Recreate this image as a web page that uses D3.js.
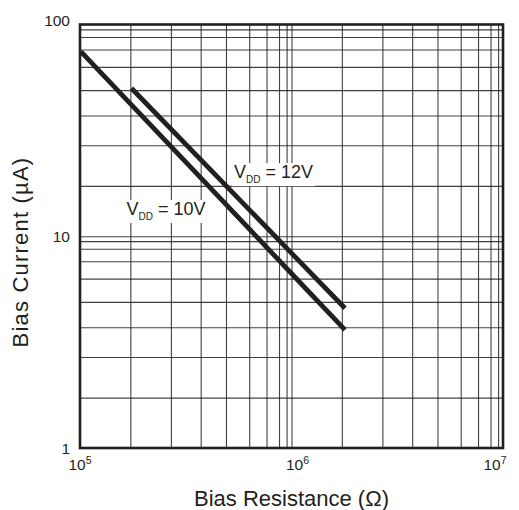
<!DOCTYPE html>
<html>
<head>
<meta charset="utf-8">
<script src="https://cdn.jsdelivr.net/npm/d3@7"></script>
<style>
  html, body { margin: 0; padding: 0; background: #fff; }
  svg { display: block; font-family: "Liberation Sans", Arial, Helvetica, sans-serif; }
</style>
</head>
<body>
<svg id="chart" width="519" height="510"></svg>
<script>
// ---- data ----
const xDecades = [1e5, 1e6, 1e7];          // bias resistance decades (Ω)
const yDecades = [1, 10, 100];             // bias current decades (µA)
const xTickExponents = ["5", "6", "7"];
const yTickLabels = ["1", "10", "100"];
// minor grid positions within each decade, as drawn on the datasheet grid
const gridMultipliers = [1.73, 2.69, 3.72, 4.9, 6.31, 7.62, 8.73, 9.48];

const vdd10Resistance = [1.01e5, 1e6, 1.79e6];
const vdd10Current    = [74.4, 6.67, 3.61];
const vdd12Resistance = [1.75e5, 1e6, 1.79e6];
const vdd12Current    = [50, 8.32, 4.57];

const seriesLabels = [
  { main: "V", sub: "DD", rest: " = 10V", r: 1.66e5, c: 12.6 },
  { main: "V", sub: "DD", rest: " = 12V", r: 5.35e5, c: 18.8 }
];

// ---- layout ----
const svg = d3.select("#chart");
const L = 80, R = 503, T = 24.5, B = 448;
const ink = "#231f20";

const x = d3.scaleLog().domain([xDecades[0], xDecades[2]]).range([L, R]);
const y = d3.scaleLog().domain([yDecades[0], yDecades[2]]).range([B, T]);

// grid values
const xGrid = [];
xDecades.slice(0, 2).forEach(d => gridMultipliers.forEach(m => xGrid.push(d * m)));
xGrid.push(xDecades[1]);
const yGrid = [];
yDecades.slice(0, 2).forEach(d => gridMultipliers.forEach(m => yGrid.push(d * m)));
yGrid.push(yDecades[1]);

// vertical grid via axis
const gx = svg.append("g").attr("transform", `translate(0,${B})`)
  .call(d3.axisBottom(x).tickValues(xGrid).tickSize(-(B - T)).tickFormat(""));
gx.select(".domain").remove();
gx.selectAll(".tick line").attr("stroke", ink).attr("stroke-width", 1.1).attr("stroke-opacity", 0.85);

const gy = svg.append("g").attr("transform", `translate(${L},0)`)
  .call(d3.axisLeft(y).tickValues(yGrid).tickSize(-(R - L)).tickFormat(""));
gy.select(".domain").remove();
gy.selectAll(".tick line").attr("stroke", ink).attr("stroke-width", 1.1).attr("stroke-opacity", 0.85);

// frame
svg.append("rect")
  .attr("x", L).attr("y", T).attr("width", R - L).attr("height", B - T)
  .attr("fill", "none").attr("stroke", ink).attr("stroke-width", 2.6);

// series lines
const line = d3.line().x(d => x(d[0])).y(d => y(d[1]));
const series = [
  d3.zip(vdd10Resistance, vdd10Current),
  d3.zip(vdd12Resistance, vdd12Current)
];
svg.append("g").selectAll("path").data(series).join("path")
  .attr("d", line)
  .attr("fill", "none")
  .attr("stroke", ink)
  .attr("stroke-width", 4.8)
  .attr("stroke-linecap", "butt");

// series labels with white knockouts
const labG = svg.append("g");
const bgG = labG.append("g");
const lab = labG.append("g").selectAll("text").data(seriesLabels).join("text")
  .attr("x", d => x(d.r)).attr("y", d => y(d.c))
  .attr("font-size", 18).attr("fill", ink);
lab.append("tspan").text(d => d.main);
lab.append("tspan").text(d => d.sub).attr("font-size", 10).attr("dy", 5);
lab.append("tspan").text(d => d.rest).attr("dy", -5);
lab.each(function() {
  const b = this.getBBox();
  bgG.append("rect")
    .attr("x", b.x - 2).attr("y", b.y + 1)
    .attr("width", b.width + 4).attr("height", b.height)
    .attr("fill", "#fff");
});

// y tick labels
svg.append("g").selectAll("text").data(yDecades).join("text")
  .attr("x", 70)
  .attr("y", (d, i) => i === 2 ? y(d) + 1 : y(d) + 5.5)
  .attr("text-anchor", "end")
  .attr("font-size", 15.5).attr("fill", ink)
  .text((d, i) => yTickLabels[i]);

// x tick labels
const xl = svg.append("g").selectAll("text").data(xDecades).join("text")
  .attr("x", (d, i) => x(d) + [0, 6, -8][i])
  .attr("y", 470)
  .attr("text-anchor", "middle")
  .attr("font-size", 15.5).attr("fill", ink);
xl.append("tspan").text("10");
xl.append("tspan").text((d, i) => xTickExponents[i]).attr("font-size", 10.5).attr("dy", -6);

// axis titles
svg.append("text")
  .attr("x", (L + R) / 2).attr("y", 506)
  .attr("text-anchor", "middle").attr("font-size", 22).attr("fill", ink)
  .text("Bias Resistance (Ω)");
svg.append("text")
  .attr("transform", `translate(28,252) rotate(-90)`)
  .attr("text-anchor", "middle").attr("font-size", 22).attr("fill", ink)
  .attr("letter-spacing", 1.2)
  .text("Bias Current (µA)");
</script>
</body>
</html>
